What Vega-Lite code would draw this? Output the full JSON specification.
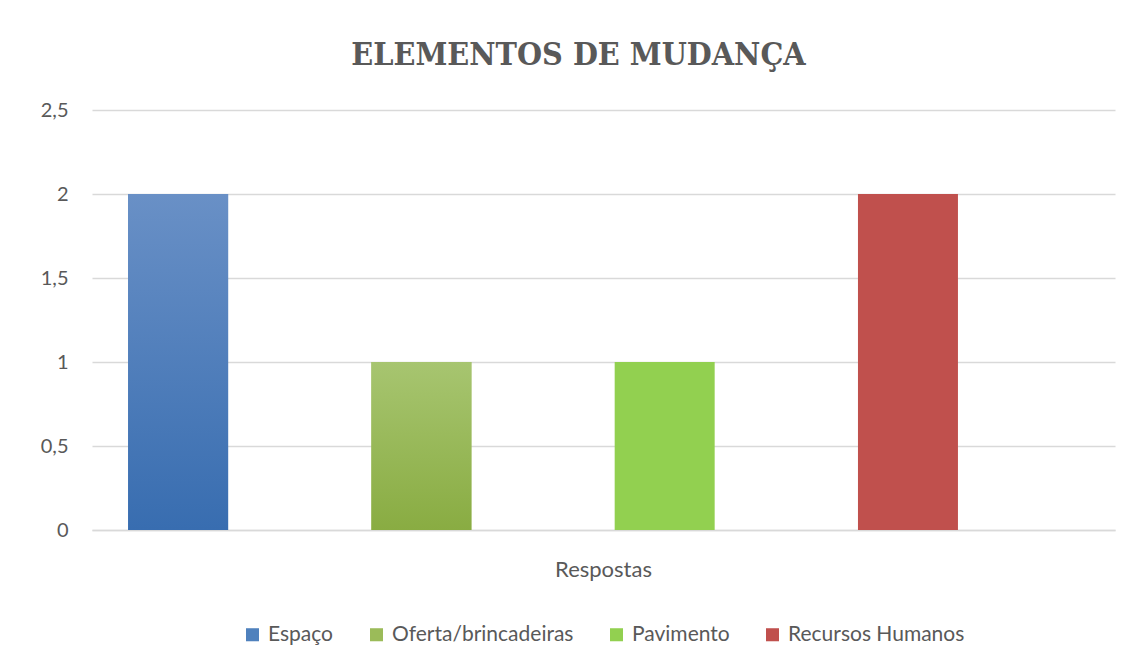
{
  "$schema": "https://vega.github.io/schema/vega-lite/v6.json",
  "autosize": "none",
  "width": 1023,
  "height": 420,
  "padding": {"left": 92, "top": 110, "right": 15, "bottom": 137},
  "background": "white",
  "title": {
    "text": "ELEMENTOS DE MUDANÇA",
    "font": "DejaVu Serif Condensed",
    "fontSize": 32,
    "fontWeight": "bold",
    "color": "#595959",
    "anchor": "middle",
    "dx": -25,
    "offset": 28
  },
  "data": {
    "values": [
      {"categoria": "Respostas", "serie": "Espaço", "valor": 2},
      {"categoria": "Respostas", "serie": "Oferta/brincadeiras", "valor": 1},
      {"categoria": "Respostas", "serie": "Pavimento", "valor": 1},
      {"categoria": "Respostas", "serie": "Recursos Humanos", "valor": 2}
    ]
  },
  "encoding": {
    "x": {
      "field": "categoria",
      "type": "nominal",
      "scale": {"paddingInner": 0, "paddingOuter": 0},
      "axis": {
        "title": null,
        "labelAngle": 0,
        "labelFont": "Lato",
        "labelFontSize": 22,
        "labelColor": "#595959",
        "labelPadding": 29,
        "ticks": false,
        "domainColor": "#d9d9d9",
        "domainWidth": 1.5
      }
    },
    "xOffset": {
      "field": "serie",
      "type": "nominal",
      "scale": {
        "domain": ["Espaço", "Oferta/brincadeiras", "Pavimento", "Recursos Humanos"],
        "paddingInner": 0.589, "paddingOuter": 0.397, "align": 0.187
      }
    },
    "y": {
      "field": "valor",
      "type": "quantitative",
      "scale": {"domain": [0, 2.5]},
      "axis": {
        "title": null,
        "values": [0, 0.5, 1, 1.5, 2, 2.5],
        "labelExpr": "replace(toString(datum.value), '.', ',')",
        "labelFont": "Lato",
        "labelFontSize": 20,
        "labelColor": "#595959",
        "labelPadding": 24,
        "ticks": false,
        "domain": false,
        "gridColor": "#d9d9d9",
        "gridWidth": 1.5
      }
    }
  },
  "layer": [
    {
      "mark": {"type": "bar"},
      "encoding": {
        "fill": {
          "field": "serie",
          "type": "nominal",
          "scale": {
            "domain": ["Espaço", "Oferta/brincadeiras", "Pavimento", "Recursos Humanos"],
            "range": ["#4f81bd", "#9bbb59", "#92d050", "#c0504d"]
          },
          "legend": {
            "title": null,
            "orient": "bottom",
            "direction": "horizontal",
            "symbolType": "square",
            "symbolSize": 170,
            "symbolStrokeWidth": 0,
            "labelFont": "Lato",
            "labelFontSize": 21,
            "labelColor": "#595959",
            "labelLimit": 400,
            "labelOffset": 5,
            "columnPadding": 32,
            "offset": 44
          }
        }
      }
    },
    {
      "transform": [{"filter": "datum.serie === 'Espaço'"}],
      "mark": {
        "type": "bar",
        "fill": {"gradient": "linear", "x1": 0, "y1": 0, "x2": 0, "y2": 1, "stops": [{"offset": 0, "color": "#6990c6"}, {"offset": 1, "color": "#386db0"}]}
      }
    },
    {
      "transform": [{"filter": "datum.serie === 'Oferta/brincadeiras'"}],
      "mark": {
        "type": "bar",
        "fill": {"gradient": "linear", "x1": 0, "y1": 0, "x2": 0, "y2": 1, "stops": [{"offset": 0, "color": "#a7c570"}, {"offset": 1, "color": "#89ac42"}]}
      }
    }
  ],
  "config": {
    "view": {"stroke": null},
    "legend": {"layout": {"anchor": "middle"}}
  }
}
